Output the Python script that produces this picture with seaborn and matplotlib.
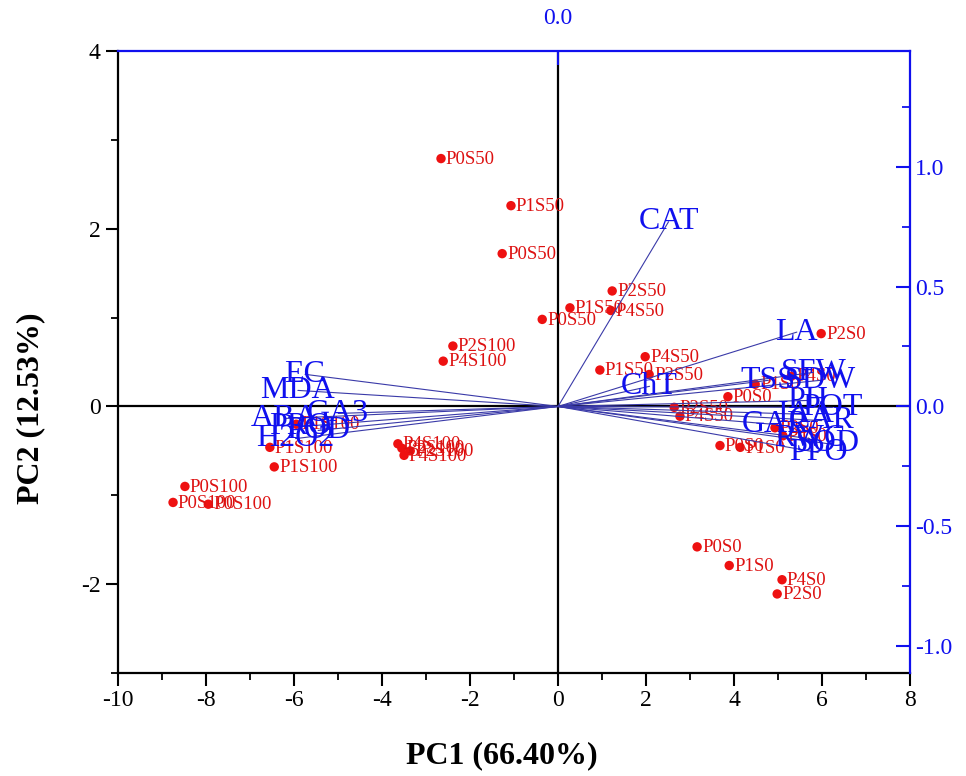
import numpy as np
import pandas as pd
import matplotlib
matplotlib.use("Agg")
import matplotlib.pyplot as plt
from matplotlib.ticker import FixedLocator, FormatStrFormatter
import seaborn as sns

# ---------------- data ----------------
score_labels = [
    "P0S50", "P1S50", "P0S50", "P2S50", "P1S50", "P4S50", "P0S50", "P4S50", "P1S50", "P2S50", "P2S50", "P4S50",
    "P2S100", "P4S100", "P0S100", "P0S100", "P0S100", "P1S100", "P1S100", "P1S100", "P4S100", "P2S100", "P2S100", "P4S100",
    "P2S0", "P1S0", "P4S0", "P0S0", "P2S0", "P4S0", "P0S0", "P1S0", "P0S0", "P1S0", "P4S0", "P2S0",
]
pc1_scores = [
    -2.66, -1.07, -1.27, 1.23, 0.27, 1.20, -0.36, 1.98, 0.95, 2.07, 2.64, 2.77,
    -2.39, -2.61, -8.48, -8.75, -7.95, -6.45, -6.55, -5.95, -3.64, -3.55, -3.36, -3.50,
    5.98, 4.48, 5.30, 3.86, 4.93, 5.11, 3.68, 4.14, 3.16, 3.89, 5.09, 4.98,
]
pc2_scores = [
    2.79, 2.26, 1.72, 1.30, 1.11, 1.08, 0.98, 0.56, 0.41, 0.36, -0.01, -0.11,
    0.68, 0.51, -0.90, -1.08, -1.10, -0.68, -0.46, -0.20, -0.42, -0.47, -0.50, -0.55,
    0.82, 0.25, 0.34, 0.11, -0.24, -0.33, -0.44, -0.46, -1.58, -1.79, -1.95, -2.11,
]

loading_labels = ["CAT", "LA", "ChT", "EC", "MDA", "ABA", "GA3", "PRO", "POD", "H2O2",
                  "TSS", "SFW", "SDW", "PH", "POT", "IAA", "CAR", "GAR", "RWC", "SOD", "PPO"]
load_pc1 = [0.93, 2.01, 0.77, -2.13, -2.19, -2.30, -1.85, -2.17, -2.02, -2.21,
            1.77, 2.15, 2.21, 2.10, 2.31, 2.09, 2.22, 1.83, 2.12, 2.27, 2.19]
load_pc2 = [0.77, 0.31, 0.084, 0.134, 0.067, -0.050, -0.029, -0.084, -0.100, -0.134,
            0.109, 0.142, 0.109, 0.025, -0.004, -0.033, -0.059, -0.075, -0.134, -0.155, -0.192]

scores = pd.DataFrame({"label": score_labels, "PC1": pc1_scores, "PC2": pc2_scores})
loads = pd.DataFrame({"label": loading_labels, "PC1": load_pc1, "PC2": load_pc2})

# ---------------- style ----------------
sns.set_theme(style="white")
plt.rcParams["font.family"] = ["Liberation Serif", "DejaVu Serif"]
plt.rcParams["axes.unicode_minus"] = False

fig = plt.figure(figsize=(9.66, 7.76), dpi=100)
rect = [0.1222, 0.1327, 0.8199, 0.8015]
ax = fig.add_axes(rect)

ax.set_xlim(-10, 8)
ax.set_ylim(-3, 4)
ax.axhline(0, color="black", lw=1.6, zorder=1)
ax.axvline(0, color="black", lw=1.6, zorder=1)

sns.scatterplot(data=scores, x="PC1", y="PC2", color="#ee1111", s=46,
                edgecolor="none", ax=ax, zorder=3, legend=False)
for _, r in scores.iterrows():
    ax.annotate(r["label"], (r["PC1"], r["PC2"]), xytext=(3.5, -0.5),
                textcoords="offset points", ha="left", va="center",
                color="#dd1111", fontsize=13.5, zorder=4)

for s in ["top", "right"]:
    ax.spines[s].set_visible(False)
for s in ["left", "bottom"]:
    ax.spines[s].set_color("black")
    ax.spines[s].set_linewidth(1.6)

ax.set_xticks(np.arange(-10, 9, 2))
ax.xaxis.set_minor_locator(FixedLocator(np.arange(-9, 8, 2)))
ax.set_yticks([-2, 0, 2, 4])
ax.yaxis.set_minor_locator(FixedLocator([-3, -1, 1, 3]))
ax.tick_params(which="major", direction="out", length=9, width=1.5, labelsize=17,
               color="black", labelcolor="black", bottom=True, left=True)
ax.tick_params(which="minor", direction="out", length=5, width=1.3,
               color="black", bottom=True, left=True)
ax.set_xlabel("PC1 (66.40%)", fontsize=23, fontweight="bold", color="black")
ax.set_ylabel("PC2 (12.53%)", fontsize=23, fontweight="bold", color="black")
ax.xaxis.set_label_coords(0.484, -0.11)
ax.yaxis.set_label_coords(-0.092, 0.426)

# ---------------- loadings on secondary axes ----------------
k = 2.70
ax2 = fig.add_axes(rect)
ax2.patch.set_visible(False)
ax2.set_xlim(-10 / k, 8 / k)
ax2.set_ylim(-3 / k, 4 / k)
ax2.xaxis.tick_top()
ax2.yaxis.tick_right()
ax2.set_xticks([0.0])
ax2.set_yticks([-1.0, -0.5, 0.0, 0.5, 1.0])
ax2.yaxis.set_minor_locator(FixedLocator([-0.75, -0.25, 0.25, 0.75, 1.25]))
ax2.xaxis.set_major_formatter(FormatStrFormatter("%.1f"))
ax2.yaxis.set_major_formatter(FormatStrFormatter("%.1f"))
for s in ["left", "bottom"]:
    ax2.spines[s].set_visible(False)
for s in ["top", "right"]:
    ax2.spines[s].set_color("#1010ee")
    ax2.spines[s].set_linewidth(1.6)
ax2.tick_params(which="major", direction="in", length=10, width=1.5, labelsize=17,
                color="#1010ee", labelcolor="#1010ee", top=True, right=True,
                bottom=False, left=False)
ax2.tick_params(axis="x", which="major", pad=16)
ax2.tick_params(which="minor", direction="in", length=6, width=1.3,
                color="#1010ee", right=True, left=False)
ax2.grid(False)

for _, r in loads.iterrows():
    ax2.plot([0, r["PC1"]], [0, r["PC2"]], color="#3a3aa8", lw=0.8, zorder=2)
    ax2.text(r["PC1"], r["PC2"], r["label"], color="#1010ee", fontsize=23,
             ha="center", va="center", zorder=5)

fig.savefig("out.png", dpi=100)
